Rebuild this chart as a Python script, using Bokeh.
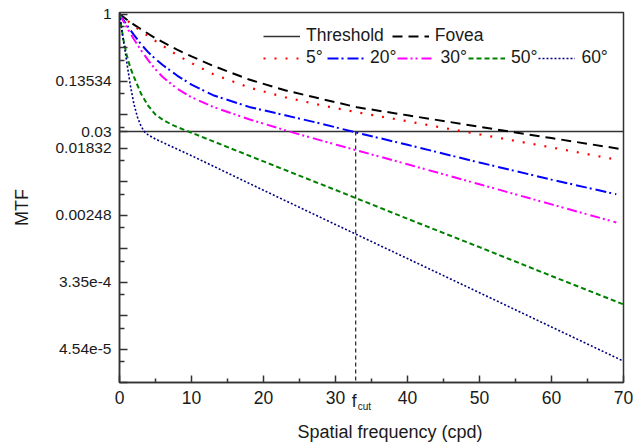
import math
from bokeh.plotting import figure
from bokeh.models import Range1d, FixedTicker, Legend, LegendItem, Label
from bokeh.embed import file_html
from bokeh.resources import INLINE

# ---------------- data ----------------
FOVEA_F = [0, 1, 2, 3, 5, 8, 10, 13, 18, 23, 28, 33, 40, 50, 60, 70]
FOVEA = [1.0, 0.852, 0.733, 0.638, 0.487, 0.346, 0.284, 0.214, 0.142, 0.103,
         0.0797, 0.0620, 0.0488, 0.0347, 0.0247, 0.0176]

E5_F = [0, 1, 2, 3, 5, 8, 10, 13, 18, 23, 28, 33, 40, 50, 60, 69]
E5 = [1.0, 0.835, 0.705, 0.600, 0.449, 0.295, 0.232, 0.167, 0.112, 0.0837,
      0.0659, 0.0534, 0.0408, 0.0276, 0.0187, 0.0130]

E20_F = [0, 1, 2, 3, 4, 5, 6, 8, 10, 13, 18, 23, 28, 33, 40, 50, 60, 69]
E20 = [1.0, 0.726, 0.538, 0.407, 0.320, 0.262, 0.219, 0.160, 0.122, 0.0889,
       0.0627, 0.0488, 0.0380, 0.0290, 0.0202, 0.0119, 0.00715, 0.00461]

E30_F = [0, 1, 2, 3, 4, 5, 6, 8, 10, 13, 18, 24, 30, 40, 50, 60, 69]
E30 = [1.0, 0.677, 0.472, 0.340, 0.252, 0.192, 0.153, 0.108, 0.0837, 0.0627,
       0.0433, 0.0293, 0.0204, 0.0113, 0.00622, 0.00341, 0.00199]

E50_F = [0, 0.5, 1, 1.5, 2, 3, 4, 5, 6, 7, 8, 10, 15, 20, 30, 40, 50, 60, 70]
E50 = [1.0, 0.487, 0.295, 0.202, 0.154, 0.0926, 0.0646, 0.0498, 0.0429, 0.0380,
       0.0344, 0.0290, 0.0189, 0.0123, 0.00525, 0.00222, 0.000950, 0.000402, 0.000172]

E60_F = [0, 0.5, 1, 1.5, 2, 2.5, 3, 3.5, 4, 5, 6, 8, 10, 20, 30, 40, 50, 60, 70]
E60 = [1.0, 0.487, 0.242, 0.120, 0.0686, 0.0460, 0.0351, 0.0296, 0.0271, 0.0240,
       0.0217, 0.0178, 0.0146, 0.00520, 0.00187, 0.000676, 0.000244, 0.0000877, 0.0000316]

THRESHOLD = 0.03
FCUT = 32.8

X_TICKS = [0, 10, 20, 30, 40, 50, 60, 70]
X_MINOR = [5, 15, 25, 35, 45, 55, 65]
Y_EXPONENTS = list(range(0, -12, -1))
Y_TICK_LABELS = ["1", "", "0.13534", "", "0.01832", "", "0.00248", "",
                 "3.35e-4", "", "4.54e-5", ""]
THRESHOLD_LABEL = "0.03"

X_RANGE = (0, 70)
Y_RANGE = (math.exp(-11.0), math.exp(0.05))

FONT = "Liberation Sans"
AX = "#333333"
TXT = "#1a1a1a"
W, H = 640, 443

p = figure(width=W, height=H, x_range=Range1d(*X_RANGE),
           y_range=Range1d(*Y_RANGE), y_axis_type="log",
           output_backend="svg", toolbar_location=None,
           min_border_left=119, min_border_right=17,
           min_border_top=12, min_border_bottom=61)
p.background_fill_color = "white"
p.border_fill_color = "white"
p.xgrid.visible = False
p.ygrid.visible = False
p.outline_line_color = AX
p.outline_line_width = 1.5

# threshold and cut-off frequency
r_thr = p.line(list(X_RANGE), [THRESHOLD, THRESHOLD], line_color=AX, line_width=1.5)
p.segment(x0=[FCUT], y0=[THRESHOLD], x1=[FCUT], y1=[Y_RANGE[0]],
          line_color=AX, line_width=1.3, line_dash="4 3")

r_fov = p.line(FOVEA_F, FOVEA, line_color="black", line_width=2, line_dash="10 6")
r5 = p.line(E5_F, E5, line_color="#ff0000", line_width=2.2, line_dash="2 9")
r20 = p.line(E20_F, E20, line_color="#0000ff", line_width=2, line_dash="11 3 2 4")
r30 = p.line(E30_F, E30, line_color="#ff00ff", line_width=2, line_dash="10 3 2 3 2 4")
r50 = p.line(E50_F, E50, line_color="#008000", line_width=2, line_dash="5 3")
r60 = p.line(E60_F, E60, line_color="#000080", line_width=1.6, line_dash="2 2")

# axes
p.xaxis.ticker = FixedTicker(ticks=X_TICKS, minor_ticks=X_MINOR)
y_ticks = [math.exp(e) for e in Y_EXPONENTS]
y_minor = [(math.exp(e) + math.exp(e - 1)) / 2 for e in Y_EXPONENTS[:-1]]
p.yaxis.ticker = FixedTicker(ticks=y_ticks + [THRESHOLD], minor_ticks=y_minor)
overrides = {t: lab for t, lab in zip(y_ticks, Y_TICK_LABELS)}
overrides[THRESHOLD] = THRESHOLD_LABEL
p.yaxis.major_label_overrides = overrides

for ax in (p.xaxis[0], p.yaxis[0]):
    ax.axis_line_color = AX
    ax.axis_line_width = 1.5
    ax.major_tick_line_color = AX
    ax.minor_tick_line_color = AX
    ax.major_tick_line_width = 1.5
    ax.minor_tick_line_width = 1.5
    ax.major_tick_out = 0
    ax.minor_tick_out = 0
    ax.major_label_text_font = FONT
    ax.major_label_text_color = TXT
    ax.major_label_standoff = 8

p.xaxis.major_tick_in = 7
p.xaxis.minor_tick_in = 4
p.xaxis.major_label_text_font_size = "17.5px"
p.yaxis.major_tick_in = 8
p.yaxis.minor_tick_in = 5
p.yaxis.major_label_text_font_size = "15.5px"

# texts outside the frame: anchored at the axes' corner, offset in pixels
# (placed in side panels that have free room, so they are not clipped)
X0, Y0 = X_RANGE[0], Y_RANGE[0]
p.add_layout(Label(x=X0, y=Y0, x_offset=270.5, y_offset=-49,
                   text="Spatial frequency (cpd)", text_align="center",
                   text_baseline="middle", text_font=FONT, text_font_size="18px",
                   text_color=TXT), "below")
p.add_layout(Label(x=X0, y=Y0, x_offset=-98, y_offset=175,
                   text="MTF", angle=math.pi / 2, text_align="center",
                   text_baseline="middle", text_font=FONT, text_font_size="18px",
                   text_color=TXT), "left")
p.add_layout(Label(x=FCUT, y=Y0, x_offset=1, y_offset=-18,
                   text="f", text_align="right", text_baseline="middle",
                   text_font=FONT, text_font_size="17.5px", text_color=TXT), "left")
p.add_layout(Label(x=FCUT, y=Y0, x_offset=2, y_offset=-24,
                   text="cut", text_align="left", text_baseline="middle",
                   text_font=FONT, text_font_size="10px", text_color=TXT), "left")

# legends
def make_legend(items, loc, spacing):
    lg = Legend(items=items, orientation="horizontal", location=loc,
                padding=0, margin=0, spacing=spacing, label_standoff=6,
                glyph_width=37, glyph_height=20, label_height=20,
                label_text_font=FONT, label_text_font_size="17.5px",
                label_text_color=TXT, border_line_alpha=0,
                background_fill_alpha=0)
    return lg

leg1 = make_legend([LegendItem(label="Threshold", renderers=[r_thr]),
                    LegendItem(label="Fovea", renderers=[r_fov])], (144, 336), 8)
leg2 = make_legend([LegendItem(label="5°", renderers=[r5]),
                    LegendItem(label="20°", renderers=[r20]),
                    LegendItem(label="30°", renderers=[r30]),
                    LegendItem(label="50°", renderers=[r50]),
                    LegendItem(label="60°", renderers=[r60])], (144, 314), 1)
p.add_layout(leg1)
p.add_layout(leg2)

open("out.html", "w").write(file_html(p, INLINE))
